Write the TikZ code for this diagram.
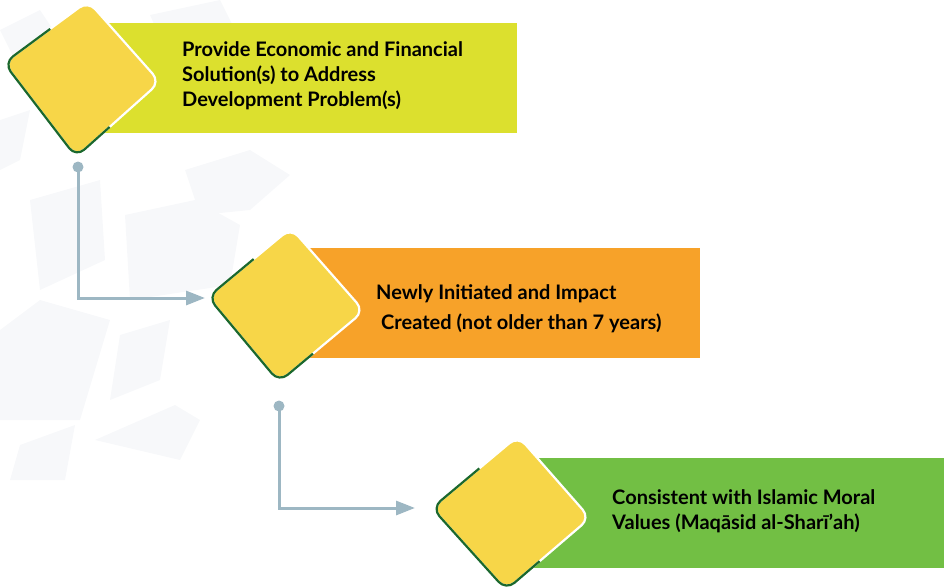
\documentclass[tikz,border=0pt]{standalone}
\usepackage{fontspec}
\setmainfont{Lato}
\usetikzlibrary{arrows.meta,calc}
\definecolor{boxA}{RGB}{220,224,46}
\definecolor{boxB}{RGB}{247,162,41}
\definecolor{boxC}{RGB}{114,191,68}
\definecolor{dfill}{RGB}{247,214,72}
\definecolor{dgreen}{RGB}{27,104,45}
\definecolor{conn}{RGB}{157,183,195}
\definecolor{hexbg}{RGB}{247,248,250}
\tikzset{
  lbl/.style={anchor=base west, align=left, inner sep=0pt, font=\bfseries\fontsize{20}{25}\selectfont, text=black},
  connector/.style={draw=conn, line width=3pt, -{Triangle[length=19pt,width=14pt]}},
  dotstyle/.style={circle, fill=conn, inner sep=0pt, minimum size=11pt},
  dborder/.style={rounded corners=11pt}
}
\newcommand{\mydiamond}[4]{%
  \fill[dfill, dborder] #1 -- #2 -- #3 -- #4 -- cycle;
  \draw[white, line width=2.2pt, dborder] #1 -- #2 -- #3 -- #4 -- cycle;
  \draw[dgreen, line width=2.2pt, rounded corners=11pt] ($#1!0.45!#4$) -- #4 -- #3 -- ($#3!0.4!#2$);
}
\begin{document}
\begin{tikzpicture}[x=1pt,y=-1pt]
\useasboundingbox (0,0) rectangle (944,587);
% faint background pattern
\begin{scope}[hexbg]
\fill (0,30) -- (40,10) -- (60,40) -- (20,70) -- cycle;
\fill (0,120) -- (30,110) -- (20,160) -- (0,170) -- cycle;
\fill (30,200) -- (100,180) -- (105,260) -- (40,290) -- cycle;
\fill (125,215) -- (195,200) -- (240,225) -- (230,285) -- (130,300) -- cycle;
\fill (0,330) -- (40,300) -- (110,320) -- (80,420) -- (0,420) -- cycle;
\fill (120,335) -- (170,320) -- (160,380) -- (110,400) -- cycle;
\fill (20,445) -- (75,425) -- (65,480) -- (10,480) -- cycle;
\fill (95,440) -- (175,405) -- (200,420) -- (180,460) -- cycle;
\fill (150,15) -- (220,0) -- (240,40) -- (170,60) -- cycle;
\fill (185,170) -- (250,150) -- (290,175) -- (250,210) -- (200,215) -- cycle;
\end{scope}
% panels
\path[fill=boxA] (98,23) rectangle (517,133);
\path[fill=boxB] (300,248) rectangle (700,358);
\path[fill=boxC] (520,458) rectangle (944,568);
% diamonds
\coordinate (d1T) at (88,1);   \coordinate (d1R) at (160,82);
\coordinate (d1B) at (76,157); \coordinate (d1L) at (4,63);
\coordinate (d2T) at (291,228); \coordinate (d2R) at (364,311);
\coordinate (d2B) at (279,382); \coordinate (d2L) at (208,297);
\coordinate (d3T) at (518,436); \coordinate (d3R) at (590,518);
\coordinate (d3B) at (506,590); \coordinate (d3L) at (432,508);
\mydiamond{(d1T)}{(d1R)}{(d1B)}{(d1L)}
\mydiamond{(d2T)}{(d2R)}{(d2B)}{(d2L)}
\mydiamond{(d3T)}{(d3R)}{(d3B)}{(d3L)}
% labels (base = last line)
\node[lbl] (t1) at (182,106) {Provide Economic and Financial\\Solution(s) to Address\\Development Problem(s)};
\node[lbl, font=\bfseries\fontsize{20}{30}\selectfont] (t2) at (376,329) {Newly Initiated and Impact\\\hspace*{5pt}Created (not older than 7 years)};
\node[lbl] (t3) at (612,529) {Consistent with Islamic Moral\\Values (Maqāsid al-Sharīʼah)};
% connectors
\node[dotstyle] (dot1) at (78,167) {};
\node[dotstyle] (dot2) at (279,406) {};
\coordinate (in2) at (205,298);
\coordinate (in3) at (415,508);
\draw[connector] (dot1.center) |- (in2);
\draw[connector] (dot2.center) |- (in3);
\end{tikzpicture}
\end{document}
